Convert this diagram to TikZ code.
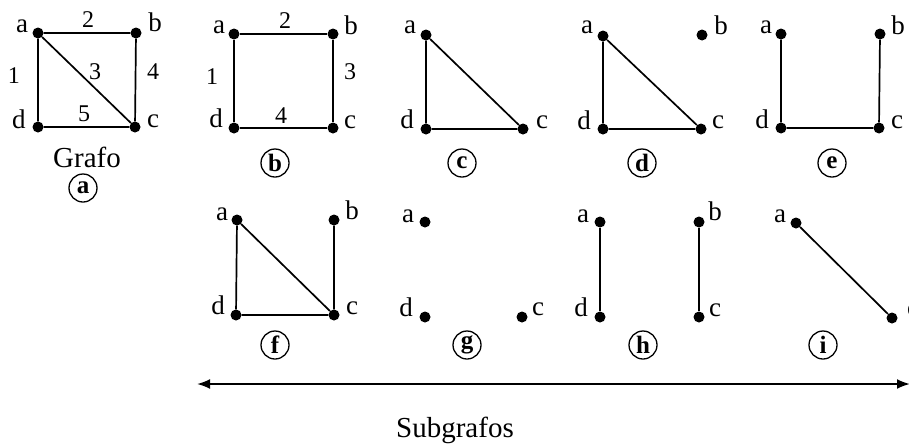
\documentclass[tikz,border=0pt]{standalone}
\usepackage{fontspec}
\setmainfont{Liberation Serif}
\usetikzlibrary{arrows.meta}
\begin{document}
\begin{tikzpicture}[x=1pt,y=-1pt,
  vtx/.style={circle,fill=black,inner sep=0pt,minimum size=11pt},
  lbl/.style={inner sep=0pt,font=\fontsize{27}{27}\selectfont},
  elbl/.style={inner sep=0pt,font=\fontsize{24}{24}\selectfont},
  big/.style={inner sep=0pt,font=\fontsize{29}{29}\selectfont},
  tag/.style={circle,draw=black,line width=1.3pt,inner sep=0pt,minimum size=28pt,font=\fontsize{25}{25}\selectfont\bfseries},
  edge/.style={line width=1.7pt},
  span/.style={line width=2pt,{Latex[length=13pt,width=10pt]}-{Latex[length=13pt,width=10pt]}}]
\useasboundingbox (0,0) rectangle (909,445);
% ---- graph a
\node[vtx] (Aa) at (38,33) {};
\node[vtx] (Ab) at (136,33) {};
\node[vtx] (Ad) at (38,127) {};
\node[vtx] (Ac) at (135,127) {};
\draw[edge] (Aa) -- (Ab) (Ab) -- (Ac) (Ac) -- (Ad) (Ad) -- (Aa) (Aa) -- (Ac);
\node[lbl] (Aal) at (22,26) {a};
\node[lbl] (Abl) at (155,22) {b};
\node[lbl] (Adl) at (19,119) {d};
\node[lbl] (Acl) at (153,121) {c};
\node[elbl] (Ae2) at (88,20) {2};
\node[elbl] (Ae1) at (14,76) {1};
\node[elbl] (Ae3) at (95,72) {3};
\node[elbl] (Ae4) at (153,72) {4};
\node[elbl] (Ae5) at (84,114) {5};
\node[big,anchor=base] (grafo) at (87,167) {Grafo};
\node[tag] (ta) at (83,188) {a};
% ---- graph b
\node[vtx] (Ba) at (234,34) {};
\node[vtx] (Bb) at (333,34) {};
\node[vtx] (Bd) at (234,128) {};
\node[vtx] (Bc) at (333,128) {};
\draw[edge] (Ba) -- (Bb) (Bb) -- (Bc) (Bc) -- (Bd) (Bd) -- (Ba);
\node[lbl] (Bal) at (219,27) {a};
\node[lbl] (Bbl) at (351,25) {b};
\node[lbl] (Bdl) at (216,118) {d};
\node[lbl] (Bcl) at (350,122) {c};
\node[elbl] (Be2) at (285,21) {2};
\node[elbl] (Be1) at (212,77) {1};
\node[elbl] (Be3) at (350,72) {3};
\node[elbl] (Be4) at (281,116) {4};
\node[tag] (tb) at (275,163) {b};
% ---- graph c
\node[vtx] (Ca) at (426,35) {};
\node[vtx] (Cd) at (426,129) {};
\node[vtx] (Cc) at (523,129) {};
\draw[edge] (Ca) -- (Cd) (Cd) -- (Cc) (Cc) -- (Ca);
\node[lbl] (Cal) at (410,27) {a};
\node[lbl] (Cdl) at (407,119) {d};
\node[lbl] (Ccl) at (542,122) {c};
\node[tag] (tc) at (462,163) {c};
% ---- graph d
\node[vtx] (Da) at (603,36) {};
\node[vtx] (Db) at (702,35) {};
\node[vtx] (Dd) at (603,129) {};
\node[vtx] (Dc) at (701,129) {};
\draw[edge] (Da) -- (Dd) (Dd) -- (Dc) (Dc) -- (Da);
\node[lbl] (Dal) at (587,27) {a};
\node[lbl] (Dbl) at (721,25) {b};
\node[lbl] (Ddl) at (584,120) {d};
\node[lbl] (Dcl) at (718,122) {c};
\node[tag] (td) at (642,163) {d};
% ---- graph e
\node[vtx] (Ea) at (781,34) {};
\node[vtx] (Eb) at (880,34) {};
\node[vtx] (Ed) at (781,128) {};
\node[vtx] (Ec) at (879,128) {};
\draw[edge] (Ea) -- (Ed) (Ed) -- (Ec) (Ec) -- (Eb);
\node[lbl] (Eal) at (766,27) {a};
\node[lbl] (Ebl) at (898,25) {b};
\node[lbl] (Edl) at (762,119) {d};
\node[lbl] (Ecl) at (897,122) {c};
\node[tag] (te) at (832,163) {e};
% ---- graph f
\node[vtx] (Fa) at (237,220) {};
\node[vtx] (Fb) at (334,220) {};
\node[vtx] (Fd) at (236,315) {};
\node[vtx] (Fc) at (334,315) {};
\draw[edge] (Fa) -- (Fd) (Fd) -- (Fc) (Fc) -- (Fa) (Fb) -- (Fc);
\node[lbl] (Fal) at (222,214) {a};
\node[lbl] (Fbl) at (352,210) {b};
\node[lbl] (Fdl) at (218,305) {d};
\node[lbl] (Fcl) at (352,308) {c};
\node[tag] (tf) at (275,345) {f};
% ---- graph g
\node[vtx] (Ga) at (425,222) {};
\node[vtx] (Gd) at (425,317) {};
\node[vtx] (Gc) at (522,317) {};
\node[lbl] (Gal) at (408,216) {a};
\node[lbl] (Gdl) at (406,307) {d};
\node[lbl] (Gcl) at (538,309) {c};
\node[tag] (tg) at (467,345) {g};
% ---- graph h
\node[vtx] (Ha) at (600,222) {};
\node[vtx] (Hd) at (600,317) {};
\node[vtx] (Hb) at (699,222) {};
\node[vtx] (Hc) at (699,317) {};
\draw[edge] (Ha) -- (Hd) (Hb) -- (Hc);
\node[lbl] (Hal) at (583,216) {a};
\node[lbl] (Hdl) at (581,307) {d};
\node[lbl] (Hbl) at (715,211) {b};
\node[lbl] (Hcl) at (715,310) {c};
\node[tag] (th) at (643,345) {h};
% ---- graph i
\node[vtx] (Ia) at (796,223) {};
\node[vtx] (Ic) at (892,318) {};
\draw[edge] (Ia) -- (Ic);
\node[lbl] (Ial) at (780,216) {a};
\node[lbl] (Icl) at (913,310) {c};
\node[tag] (ti) at (823,345) {i};
% ---- span arrow
\coordinate (sL) at (197,384);
\coordinate (sR) at (910,384);
\draw[span] (sL) -- (sR);
\node[big,anchor=base] (sub) at (455,437) {Subgrafos};
\end{tikzpicture}
\end{document}
